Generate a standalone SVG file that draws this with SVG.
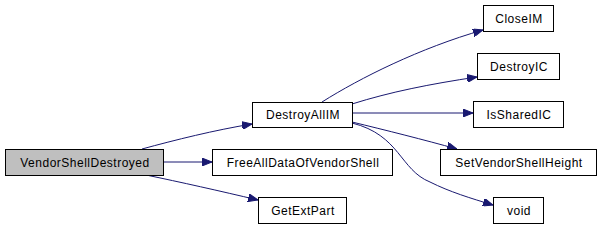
<svg xmlns="http://www.w3.org/2000/svg" width="599" height="226" viewBox="0 0 599 226">
<style>
.n rect{fill:#ffffff;stroke:#000000;stroke-width:1}
.n.hl rect{fill:#bfbfbf}
.n text{font-family:"Liberation Sans",Arial,sans-serif;font-size:12px;letter-spacing:0.5px;text-anchor:middle;fill:#000000}
.e path{fill:none;stroke:#191970;stroke-width:1;marker-end:url(#ah)}
</style>
<defs>
<marker id="ah" viewBox="0 0 10 8" refX="10" refY="4" markerWidth="10" markerHeight="8" markerUnits="userSpaceOnUse" orient="auto">
<path d="M0,0 L10,4 L0,8 Z" fill="#191970" stroke="#191970"/>
</marker>
</defs>
<rect width="599" height="226" fill="#ffffff"/>
<g id="edges" class="e">
<path d="M142,149 C175,140 215,130 252,124"/>
<path d="M163,162 L212,162"/>
<path d="M146,175 C180,182 220,191 258,200"/>
<path d="M322,102 C360,78 420,48 483,30"/>
<path d="M352,104 C390,92 430,84 477,77"/>
<path d="M352,113 L473,113"/>
<path d="M352,122 C385,130 425,140 457,149"/>
<path d="M352,123 C400,135 400,170 430,182 C450,192 470,198 493,205"/>
</g>
<g id="VendorShellDestroyed" class="n hl"><rect x="5.5" y="149.5" width="158" height="26"/><text x="85" y="167">VendorShellDestroyed</text></g>
<g id="DestroyAllIM" class="n"><rect x="252.5" y="102.5" width="100" height="25"/><text x="303" y="119">DestroyAllIM</text></g>
<g id="FreeAllDataOfVendorShell" class="n"><rect x="212.5" y="149.5" width="180" height="26"/><text x="303" y="167">FreeAllDataOfVendorShell</text></g>
<g id="GetExtPart" class="n"><rect x="258.5" y="197.5" width="88" height="26"/><text x="303" y="215">GetExtPart</text></g>
<g id="CloseIM" class="n"><rect x="483.5" y="5.5" width="70" height="26"/><text x="519" y="23">CloseIM</text></g>
<g id="DestroyIC" class="n"><rect x="477.5" y="53.5" width="82" height="26"/><text x="519" y="71">DestroyIC</text></g>
<g id="IsSharedIC" class="n"><rect x="473.5" y="101.5" width="90" height="26"/><text x="519" y="119">IsSharedIC</text></g>
<g id="SetVendorShellHeight" class="n"><rect x="440.5" y="149.5" width="156" height="26"/><text x="519" y="167">SetVendorShellHeight</text></g>
<g id="void" class="n"><rect x="493.5" y="197.5" width="50" height="26"/><text x="519" y="215">void</text></g>
</svg>
